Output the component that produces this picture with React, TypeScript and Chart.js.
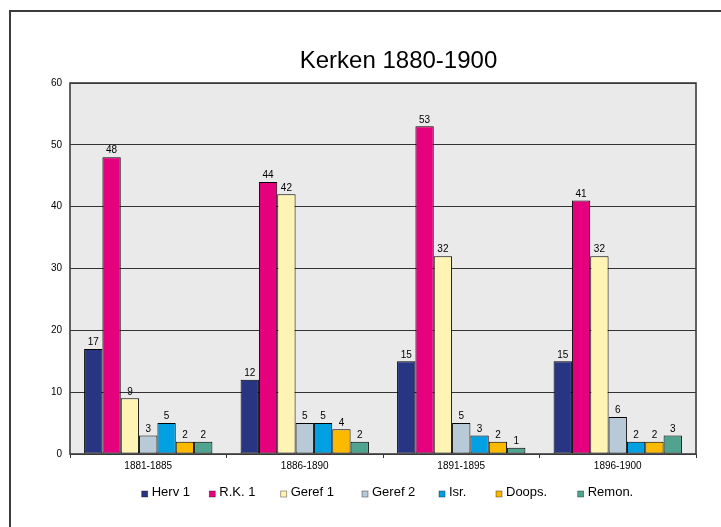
import React, { useEffect, useRef } from "react";
import { Chart, registerables } from "chart.js";

Chart.register(...registerables);

const categories = ["1881-1885", "1886-1890", "1891-1895", "1896-1900"];
const seriesNames = ["Herv 1", "R.K. 1", "Geref 1", "Geref 2", "Isr.", "Doops.", "Remon."];
const herv1 = [17, 12, 15, 15];
const rk1 = [48, 44, 53, 41];
const geref1 = [9, 42, 32, 32];
const geref2 = [3, 5, 5, 6];
const isr = [5, 5, 3, 2];
const doops = [2, 4, 2, 2];
const remon = [2, 2, 1, 3];
const yTicks = [0, 10, 20, 30, 40, 50, 60];
const titleText = "Kerken 1880-1900";

const seriesValues = [herv1, rk1, geref1, geref2, isr, doops, remon];
const colors = ["#283583", "#e5007e", "#fff4b3", "#b8cad8", "#00a0e3", "#fbb900", "#50a48f"];
const legendX = [141.7, 209.3, 280.7, 362, 439, 496, 577.7];
const FONT = "'Liberation Sans', Arial, sans-serif";

const decorPlugin = {
  id: "decor",
  beforeDraw(chart: any) {
    const { ctx, chartArea } = chart;
    ctx.save();
    ctx.fillStyle = "#ffffff";
    ctx.fillRect(0, 0, chart.width, chart.height);
    ctx.fillStyle = "#eaeaea";
    ctx.fillRect(chartArea.left, chartArea.top, chartArea.right - chartArea.left, chartArea.bottom - chartArea.top);
    // outer frame (clipped on right/bottom like reference)
    ctx.strokeStyle = "#3c3c3c";
    ctx.lineWidth = 2;
    ctx.strokeRect(10, 11, 2000, 2000);
    // title
    ctx.fillStyle = "#000";
    ctx.font = `24px ${FONT}`;
    ctx.textAlign = "center";
    ctx.textBaseline = "middle";
    ctx.fillText(titleText, 398.5, 61.5);
    ctx.restore();
  },
  afterDatasetsDraw(chart: any) {
    const { ctx, chartArea } = chart;
    ctx.save();
    // value labels
    ctx.fillStyle = "#000";
    ctx.font = `10px ${FONT}`;
    ctx.textAlign = "center";
    ctx.textBaseline = "bottom";
    chart.data.datasets.forEach((ds: any, i: number) => {
      const meta = chart.getDatasetMeta(i);
      meta.data.forEach((bar: any, j: number) => {
        ctx.fillText(String(ds.data[j]), bar.x, bar.y - 1.5);
      });
    });
    // plot border
    ctx.strokeStyle = "#3c3c3c";
    ctx.lineWidth = 1.6;
    ctx.strokeRect(chartArea.left, chartArea.top, chartArea.right - chartArea.left, chartArea.bottom - chartArea.top);
    // legend
    ctx.font = `13px ${FONT}`;
    ctx.textAlign = "left";
    ctx.textBaseline = "middle";
    chart.data.datasets.forEach((ds: any, i: number) => {
      const x = legendX[i];
      ctx.fillStyle = ds.backgroundColor;
      ctx.fillRect(x, 491, 6, 6);
      ctx.strokeStyle = "rgba(0,0,0,0.45)";
      ctx.lineWidth = 0.8;
      ctx.strokeRect(x, 491, 6, 6);
      ctx.fillStyle = "#000";
      ctx.fillText(ds.label, x + 10, 492.5);
    });
    ctx.restore();
  },
};

export default function App() {
  const ref = useRef<HTMLCanvasElement>(null);
  useEffect(() => {
    if (!ref.current) return;
    Chart.defaults.font.family = FONT;
    const chart = new Chart(ref.current, {
      type: "bar",
      data: {
        labels: categories,
        datasets: seriesNames.map((name, i) => ({
          label: name,
          data: seriesValues[i],
          backgroundColor: colors[i],
          borderColor: "#000",
          borderWidth: 1,
          borderSkipped: false,
          categoryPercentage: 0.82,
          barPercentage: 1,
        })),
      },
      options: {
        responsive: false,
        animation: false,
        devicePixelRatio: 1,
        layout: { padding: { left: 0, right: 25, top: 83, bottom: 51 } },
        plugins: {
          legend: { display: false },
          title: { display: false },
          tooltip: { enabled: false },
        },
        scales: {
          x: {
            afterFit: (s: any) => { s.height = 22; },
            offset: true,
            grid: { display: true, drawOnChartArea: false, drawTicks: true, tickLength: 4, color: "#333", offset: true },
            border: { display: false },
            ticks: { color: "#000", font: { size: 10, family: FONT }, padding: 2, maxRotation: 0 },
          },
          y: {
            min: 0,
            max: 60,
            afterFit: (s: any) => { s.width = 70; },
            afterBuildTicks: (s: any) => { s.ticks = yTicks.map((v) => ({ value: v })); },
            grid: { color: "#333", lineWidth: 1, drawTicks: false },
            border: { display: false },
            ticks: { color: "#000", font: { size: 10, family: FONT }, padding: 8 },
          },
        },
      },
      plugins: [decorPlugin],
    });
    return () => chart.destroy();
  }, []);
  return (
    <div style={{ position: "absolute", left: 0, top: 0, width: 721, height: 527, overflow: "hidden", background: "#fff" }}>
      <canvas ref={ref} width={721} height={527} style={{ display: "block" }} />
    </div>
  );
}
